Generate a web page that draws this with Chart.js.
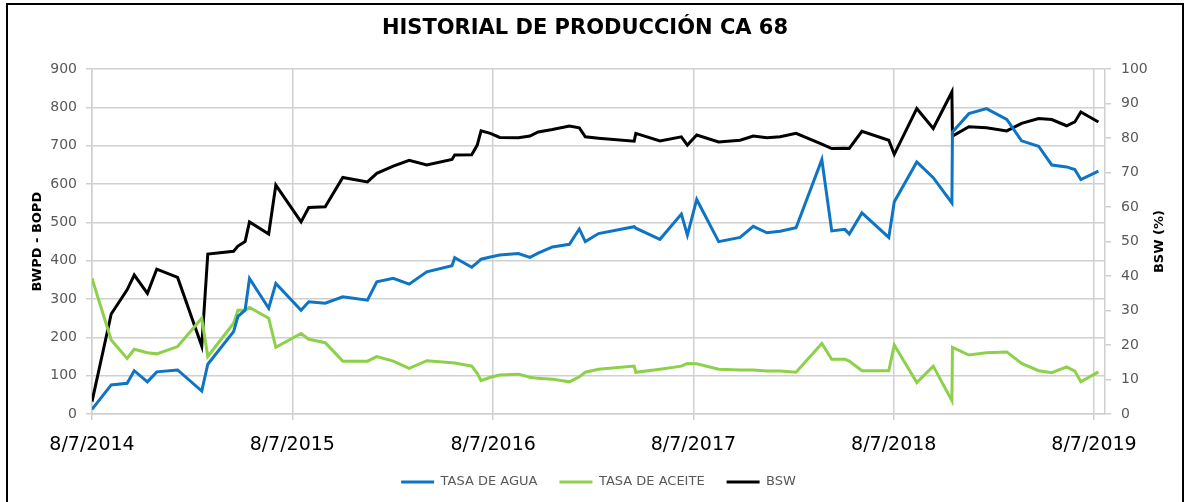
<!DOCTYPE html>
<html>
<head>
<meta charset="utf-8">
<script src="https://cdn.jsdelivr.net/npm/chart.js@4.4.1/dist/chart.umd.min.js"></script>
<style>
  html, body { margin: 0; padding: 0; background: #fff; overflow: hidden; }
  #wrap { position: relative; width: 1189px; height: 502px; }
  #marco { position: absolute; left: 6px; top: 3px; width: 1178px; height: 600px; border: 2px solid #000; box-sizing: border-box; pointer-events: none; }
</style>
</head>
<body>
<div id="wrap">
  <canvas id="grafico" width="1189" height="502"></canvas>
  <div id="marco"></div>
</div>
<script>
// fechas de medicion (aaaa-mm-dd)
const fechas = [
    '2014-08-07', '2014-09-11', '2014-10-10', '2014-10-23', '2014-11-16', '2014-12-03',
    '2015-01-10', '2015-02-23', '2015-03-06', '2015-04-22', '2015-04-30', '2015-05-13',
    '2015-05-21', '2015-06-25', '2015-07-08', '2015-08-23', '2015-09-06', '2015-10-06',
    '2015-11-07', '2015-12-22', '2016-01-08', '2016-02-07', '2016-03-07', '2016-04-08',
    '2016-05-24', '2016-05-29', '2016-06-29', '2016-07-09', '2016-07-16', '2016-08-02',
    '2016-08-19', '2016-09-22', '2016-10-13', '2016-10-28', '2016-11-23', '2016-12-24',
    '2017-01-11', '2017-01-22', '2017-02-15', '2017-04-21', '2017-04-24', '2017-06-07',
    '2017-07-16', '2017-07-27', '2017-08-13', '2017-09-22', '2017-10-31', '2017-11-24',
    '2017-12-19', '2018-01-12', '2018-02-10', '2018-03-29', '2018-04-16', '2018-05-10',
    '2018-05-18', '2018-06-10', '2018-07-29', '2018-08-08', '2018-09-18', '2018-10-18',
    '2018-11-21', '2018-11-22', '2018-12-22', '2019-01-23', '2019-03-01', '2019-03-28',
    '2019-04-28', '2019-05-22', '2019-06-18', '2019-07-03', '2019-07-14', '2019-08-15'
];

// BWPD
const tasaAgua = [
    12, 76, 80, 113, 84, 110,
    115, 60, 130, 215, 255, 271,
    354, 276, 341, 271, 293, 289,
    306, 297, 345, 354, 339, 371,
    387, 408, 383, 395, 404, 410,
    415, 419, 409, 420, 436, 443,
    483, 450, 471, 489, 485, 456,
    522, 467, 560, 450, 461, 490,
    473, 477, 486, 664, 478, 482,
    470, 525, 461, 554, 658, 617,
    551, 736, 784, 797, 769, 713,
    699, 650, 645, 638, 612, 634
];

// BOPD
const tasaAceite = [
    354, 193, 145, 169, 160, 157,
    176, 250, 150, 237, 271, 271,
    278, 250, 174, 210, 195, 186,
    138, 138, 150, 138, 119, 139,
    134, 133, 125, 106, 87, 96,
    102, 104, 96, 93, 91, 84,
    97, 109, 117, 125, 109, 117,
    125, 132, 131, 117, 115, 115,
    112, 112, 109, 184, 143, 143,
    138, 113, 113, 180, 82, 125,
    35, 174, 154, 160, 162, 132,
    113, 108, 123, 112, 84, 110
];

// BSW (%)
const bsw = [
    3.6, 29, 36, 40.3, 35, 42,
    39.6, 19.7, 46.4, 47.2, 48.7, 50,
    55.7, 52.2, 66.4, 55.7, 59.9, 60.1,
    68.6, 67.3, 69.8, 71.9, 73.6, 72.2,
    73.8, 75.1, 75.2, 78, 82.1, 81.4,
    80.2, 80.1, 80.6, 81.8, 82.5, 83.5,
    83, 80.4, 80, 79.1, 81.4, 79.2,
    80.4, 78, 80.9, 78.9, 79.4, 80.6,
    80.1, 80.4, 81.4, 78.3, 77, 77.1,
    77, 82, 79.4, 75.3, 88.6, 82.8,
    93.4, 80.6, 83.3, 83, 82.1, 84.3,
    85.7, 85.4, 83.6, 84.7, 87.6, 84.7
];

// etiquetas del eje x
const fechasEje = ['2014-08-07', '2015-08-07', '2016-08-07', '2017-08-07', '2018-08-07', '2019-08-07'];
const fechaFinEje = '2019-08-27';

const DIA = 86400000;
const inicio = Date.parse(fechasEje[0]);

function aDias(f) {
    return (Date.parse(f) - inicio) / DIA;
}

function etiqueta(dias) {
    const d = new Date(inicio + dias * DIA);
    return `${d.getUTCMonth() + 1}/${d.getUTCDate()}/${d.getUTCFullYear()}`;
}

function serie(valores) {
    return fechas.map((f, i) => ({ x: aDias(f), y: valores[i] }));
}

const FUENTE = '"DejaVu Sans", sans-serif';
const GRIS = '#595959';
const REJILLA = '#d0d0d0';

// titulo del eje derecho, leido de abajo hacia arriba como en excel
const tituloDerecho = {
    id: 'tituloDerecho',
    afterDraw(chart) {
        const { ctx, chartArea } = chart;
        const eje = chart.scales.y1;
        ctx.save();
        ctx.translate(eje.left + 55, (chartArea.top + chartArea.bottom) / 2);
        ctx.rotate(-Math.PI / 2);
        ctx.font = `bold 13px ${FUENTE}`;
        ctx.fillStyle = '#000';
        ctx.textAlign = 'center';
        ctx.textBaseline = 'middle';
        ctx.fillText('BSW (%)', 0, 0);
        ctx.restore();
    }
};

new Chart(document.getElementById('grafico'), {
    type: 'line',
    data: {
        datasets: [{
            label: 'TASA DE AGUA',
            data: serie(tasaAgua),
            borderColor: '#0E74C4',
            backgroundColor: '#0E74C4',
            borderWidth: 3,
            yAxisID: 'y'
        }, {
            label: 'TASA DE ACEITE',
            data: serie(tasaAceite),
            borderColor: '#8DD04A',
            backgroundColor: '#8DD04A',
            borderWidth: 3,
            yAxisID: 'y'
        }, {
            label: 'BSW',
            data: serie(bsw),
            borderColor: '#000000',
            backgroundColor: '#000000',
            borderWidth: 3,
            yAxisID: 'y1'
        }]
    },
    options: {
        responsive: false,
        animation: false,
        devicePixelRatio: 1,
        layout: { padding: { left: 0, right: 19, top: 0, bottom: 3.5 } },
        elements: {
            line: { tension: 0 },
            point: { radius: 0 }
        },
        plugins: {
            title: {
                display: true,
                text: 'HISTORIAL DE PRODUCCIÓN CA 68',
                color: '#000',
                font: { family: FUENTE, size: 21, weight: 'bold' },
                padding: { top: 16, bottom: 28 }
            },
            legend: {
                position: 'bottom',
                fullSize: false,
                labels: {
                    usePointStyle: true,
                    pointStyle: 'line',
                    pointStyleWidth: 33,
                    padding: 22,
                    color: GRIS,
                    font: { family: FUENTE, size: 13 }
                }
            },
            tooltip: { enabled: false }
        },
        scales: {
            x: {
                type: 'linear',
                min: 0,
                max: aDias(fechaFinEje),
                afterBuildTicks: (eje) => {
                    eje.ticks = fechasEje.map(f => ({ value: aDias(f) }));
                },
                afterFit: (eje) => { eje.height = 39.5; },
                grid: { color: REJILLA, lineWidth: 1.5, tickLength: 6 },
                border: { color: REJILLA, width: 1.5 },
                ticks: {
                    autoSkip: false,
                    maxRotation: 0,
                    padding: 13.5,
                    color: '#000',
                    font: { family: FUENTE, size: 19 },
                    callback: (v) => etiqueta(v)
                }
            },
            y: {
                position: 'left',
                min: 0,
                max: 900,
                afterFit: (eje) => { eje.width = 92; },
                grid: { color: REJILLA, lineWidth: 1.5, tickLength: 6 },
                border: { color: REJILLA, width: 1.5 },
                ticks: {
                    stepSize: 100,
                    padding: 9,
                    color: GRIS,
                    font: { family: FUENTE, size: 14 }
                },
                title: {
                    display: true,
                    text: 'BWPD - BOPD',
                    color: '#000',
                    font: { family: FUENTE, size: 13, weight: 'bold' },
                    padding: { top: 29.7, bottom: 0 }
                }
            },
            y1: {
                position: 'right',
                min: 0,
                max: 100,
                afterFit: (eje) => { eje.width = 65; },
                grid: { drawOnChartArea: false, color: REJILLA, lineWidth: 1.5, tickLength: 6 },
                border: { color: REJILLA, width: 1.5 },
                ticks: {
                    stepSize: 10,
                    padding: 10,
                    color: GRIS,
                    font: { family: FUENTE, size: 14 }
                }
            }
        }
    },
    plugins: [tituloDerecho]
});
</script>
</body>
</html>
